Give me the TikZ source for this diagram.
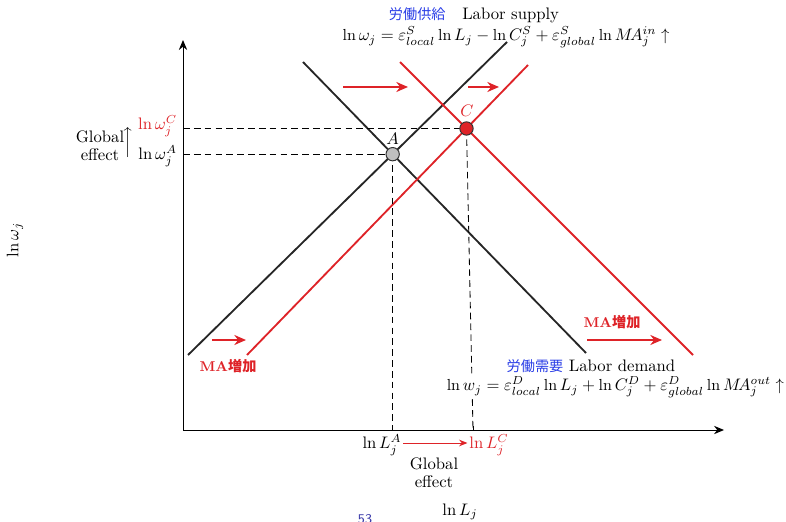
\documentclass[tikz,border=0pt]{standalone}
\usepackage{fontspec}
\newfontfamily\cjk{Noto Sans CJK JP}
\usetikzlibrary{arrows.meta,intersections,calc}
\definecolor{cred}{RGB}{222,35,40}
\definecolor{cblue}{RGB}{40,60,230}
\definecolor{cpage}{RGB}{60,60,170}
\begin{document}
\begin{tikzpicture}[x=0.6pt,y=-0.6pt,
  font=\fontsize{10}{12}\selectfont,
  axis/.style={line width=0.6pt,-{Stealth[length=6pt,width=5pt]}},
  curveb/.style={line width=1.1pt,black!85},
  curver/.style={line width=1.1pt,cred},
  guide/.style={line width=0.5pt,dash pattern=on 4pt off 2.5pt},
  shiftarrow/.style={cred,line width=1.1pt,-{Stealth[length=7pt,width=6pt]}},
  lbl/.style={inner sep=1pt},
  eqlbl/.style={inner sep=1pt,font=\fontsize{9.6}{11}\selectfont},
  malbl/.style={inner sep=0pt,text=cred,font=\fontsize{8.5}{10}\selectfont\bfseries},
  tick/.style={line width=0.5pt},
]
\useasboundingbox (0,0) rectangle (786,522);

% axes
\coordinate (O) at (183,430);
\coordinate (Ytop) at (183,40);
\coordinate (Xend) at (724,430);
\draw[axis] (O) -- (Ytop);
\draw[axis] (O) -- (Xend);

% curves
\coordinate (sb1) at (188,355); \coordinate (sb2) at (507,42);
\coordinate (db1) at (303,62);  \coordinate (db2) at (586,353);
\coordinate (sr1) at (247,355); \coordinate (sr2) at (528,65);
\coordinate (dr1) at (400,62);  \coordinate (dr2) at (693,355);
\draw[curveb,name path=sb] (sb1) -- (sb2);
\draw[curveb,name path=db] (db1) -- (db2);
\draw[curver,name path=sr] (sr1) -- (sr2);
\draw[curver,name path=dr] (dr1) -- (dr2);
\path[name intersections={of=sb and db,by=PA}];
\path[name intersections={of=sr and dr,by=PC}];

% guides
\coordinate (LA) at (PA |- O);
\coordinate (LC) at (473,430);
\coordinate (WA) at (PA -| O);
\coordinate (WC) at (PC -| O);
\draw[guide] (WA) -- (PA);
\draw[guide] (WC) -- (PC);
\draw[guide] (PA) -- (LA);
\draw[guide] (PC) -- (LC);
\draw[tick] (WA) -- ++(4,0);
\draw[tick] (WC) -- ++(4,0);
\draw[tick] (LA) -- ++(0,-4);
\draw[tick] (LC) -- ++(0,-4);

% equilibrium points
\node[circle,draw=black!80,fill=black!25,line width=0.6pt,minimum size=8pt,inner sep=0pt] (A) at (PA) {};
\node[circle,draw=black!80,fill=cred,line width=0.6pt,minimum size=8pt,inner sep=0pt] (C) at (PC) {};
\node[lbl] (Alab) at ($(PA)+(0,-15)$) {$A$};
\node[lbl,text=cred] (Clab) at (467,111) {$C$};

% shift arrows
\coordinate (t1a) at (343,87); \coordinate (t1b) at (408,87);
\coordinate (t2a) at (468,87); \coordinate (t2b) at (499,87);
\coordinate (b1a) at (212,340); \coordinate (b1b) at (246,340);
\coordinate (b2a) at (587,340); \coordinate (b2b) at (662,340);
\draw[shiftarrow] (t1a) -- (t1b);
\draw[shiftarrow] (t2a) -- (t2b);
\draw[shiftarrow] (b1a) -- (b1b);
\draw[shiftarrow] (b2a) -- (b2b);
\node[malbl] (ma1) at (228,366) {MA{\cjk\bfseries 増加}};
\node[malbl] (ma2) at (612,322) {MA{\cjk\bfseries 増加}};

% supply label
\node[lbl] (slab) at (474,15) {{\cjk\color{cblue}\fontsize{8.5}{10}\selectfont 労働供給}\quad Labor supply};
\node[eqlbl] (seq) at (506,37) {$\ln\omega_j=\varepsilon^S_{local}\ln L_j-\ln C^S_j+\varepsilon^S_{global}\ln M\!A^{in}_j\uparrow$};

% demand label
\node[lbl] (dlab) at (591,366) {{\cjk\color{cblue}\fontsize{8.5}{10}\selectfont 労働需要} Labor demand};
\node[eqlbl,fill=white,anchor=east] (deq) at (786,387) {$\ln w_j=\varepsilon^D_{local}\ln L_j+\ln C^D_j+\varepsilon^D_{global}\ln M\!A^{out}_j\uparrow$};

% y labels
\node[lbl,anchor=east,text=cred] (wC) at (179,126) {$\ln\omega^C_j$};
\node[lbl,anchor=east] (wA) at (179,156) {$\ln\omega^A_j$};
\node[lbl,align=center,font=\fontsize{10}{11}\selectfont] (gy) at (100,146) {Global\\effect};
\node[lbl] (gyarrow) at (128,143) {$\Big\uparrow$};
\node[lbl,rotate=90] (ylab) at (15,240) {$\ln\omega_j$};

% x labels
\node[lbl] (xA) at (382,445) {$\ln L^A_j$};
\node[lbl,text=cred] (xC) at (489,445) {$\ln L^C_j$};
\draw[cred,line width=0.6pt,-{Stealth[length=5pt,width=4pt]}] (xA.east) ++(0,-2) coordinate (xs) -- (xC.west |- xs);
\node[lbl,align=center,font=\fontsize{10}{11}\selectfont] (gx) at (434,473) {Global\\effect};
\node[lbl] (xlab) at (460,512) {$\ln L_j$};
\node[inner sep=0pt,anchor=north,text=cpage,font=\sffamily\fontsize{8}{9}\selectfont] (page) at (365,514) {53};
\end{tikzpicture}
\end{document}
